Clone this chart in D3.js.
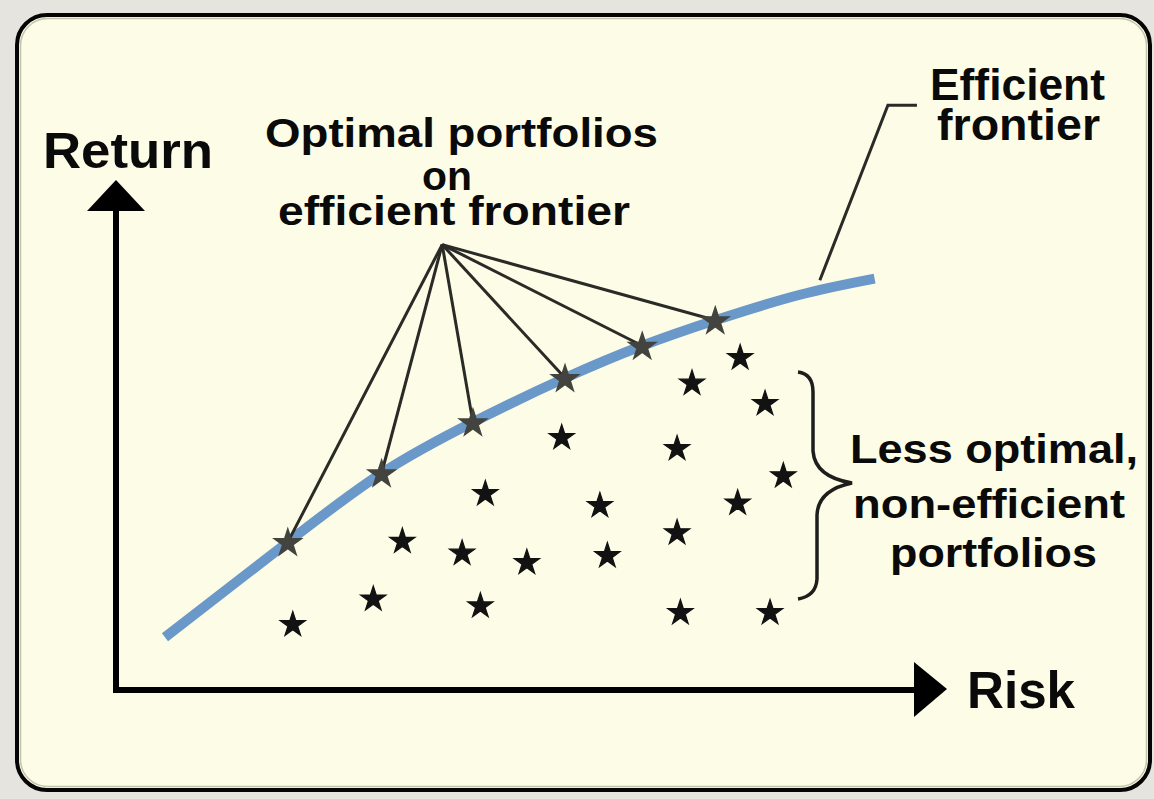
<!DOCTYPE html>
<html>
<head>
<meta charset="utf-8">
<script src="https://cdn.jsdelivr.net/npm/d3@7"></script>
<style>
  html, body { margin: 0; padding: 0; background: #e6e4df; }
  svg { display: block; }
  text { font-family: "Liberation Sans", Arial, Helvetica, sans-serif; font-weight: bold; fill: #0a0a0a; }
</style>
</head>
<body>
<div id="canvas"></div>
<script>
"use strict"

let svgWidth = 1154;
let svgHeight = 799;

// efficient frontier curve (risk, return)
let frontierRisk = [0.59, 2.07, 3.20, 4.30, 5.41, 6.34, 7.22, 8.24, 9.14];
let frontierReturn = [0.62, 1.74, 2.55, 3.15, 3.67, 4.05, 4.35, 4.65, 4.84];

// optimal portfolios sitting on the frontier
let optimalRisk = [2.07, 3.20, 4.30, 5.41, 6.34, 7.22];
let optimalReturn = [1.74, 2.55, 3.15, 3.67, 4.05, 4.35];

// less optimal, non-efficient portfolios
let otherRisk = [7.52, 6.94, 7.82, 5.37, 6.76, 8.04, 4.45, 5.83, 7.49, 6.76,
                 3.45, 4.17, 4.95, 5.92, 3.10, 4.39, 6.80, 7.88, 2.13];
let otherReturn = [3.92, 3.62, 3.38, 2.98, 2.85, 2.53, 2.32, 2.18, 2.21, 1.86,
                   1.76, 1.62, 1.51, 1.59, 1.08, 1.00, 0.92, 0.92, 0.78];

// point the callout lines fan out from
let focusRisk = 3.93;
let focusReturn = 5.24;

// labels
let axisLabels = ["Return", "Risk"];
let optimalLabel = ["Optimal portfolios", "on", "efficient frontier"];
let frontierLabel = ["Efficient", "frontier"];
let otherLabel = ["Less optimal,", "non-efficient", "portfolios"];

/* drawing canvas */
let svg = d3.select("#canvas")
    .append("svg")
    .attr("width", svgWidth)
    .attr("height", svgHeight);

/* panel */
svg.append("rect")
    .attr("x", 17).attr("y", 15)
    .attr("width", 1133).attr("height", 775)
    .attr("rx", 30).attr("ry", 30)
    .attr("fill", "#fdfde7")
    .attr("stroke", "#050505")
    .attr("stroke-width", 4);

svg.append("rect")
    .attr("x", 20.5).attr("y", 18.5)
    .attr("width", 1126).attr("height", 768)
    .attr("rx", 27).attr("ry", 27)
    .attr("fill", "none")
    .attr("stroke", "#c4c4ac")
    .attr("stroke-width", 1.5);

/* scales */
let xScale = d3.scaleLinear()
    .domain([0, 10])
    .range([116, 946]);

let yScale = d3.scaleLinear()
    .domain([0, 6])
    .range([690, 180]); // flipped for SVG

/* axes with arrow heads */
let x0 = xScale(0), y0 = yScale(0);
let xEnd = xScale(10), yEnd = yScale(6);

svg.append("path")
    .attr("d", "M" + x0 + "," + (yEnd + 30) + "V" + y0 + "H" + (xEnd - 31))
    .attr("fill", "none")
    .attr("stroke", "#000")
    .attr("stroke-width", 6)
    .attr("stroke-linejoin", "miter");

svg.append("path")
    .attr("d", "M" + x0 + "," + yEnd + "L" + (x0 + 29) + "," + (yEnd + 31) +
               "L" + (x0 - 29) + "," + (yEnd + 31) + "Z")
    .attr("fill", "#000");

svg.append("path")
    .attr("d", "M" + (xEnd + 1) + "," + (y0 - 1) + "L" + (xEnd - 32) + "," + (y0 - 28) +
               "L" + (xEnd - 32) + "," + (y0 + 27) + "Z")
    .attr("fill", "#000");

svg.append("text")
    .attr("x", 43).attr("y", 168)
    .attr("font-size", 50)
    .attr("textLength", 170)
    .attr("lengthAdjust", "spacingAndGlyphs")
    .text(axisLabels[0]);

svg.append("text")
    .attr("x", 967).attr("y", 708)
    .attr("font-size", 52)
    .attr("textLength", 108)
    .attr("lengthAdjust", "spacingAndGlyphs")
    .text(axisLabels[1]);

/* efficient frontier */
let frontier = d3.range(frontierRisk.length).map(function (i) {
    return [frontierRisk[i], frontierReturn[i]];
});

let line = d3.line()
    .x(function (d) { return xScale(d[0]); })
    .y(function (d) { return yScale(d[1]); })
    .curve(d3.curveNatural);

svg.append("path")
    .datum(frontier)
    .attr("d", line)
    .attr("fill", "none")
    .attr("stroke", "#6a98c9")
    .attr("stroke-width", 10);

/* callout lines from the label to the optimal portfolios */
svg.selectAll("line.callout")
    .data(optimalRisk)
    .join("line")
    .attr("class", "callout")
    .attr("x1", xScale(focusRisk))
    .attr("y1", yScale(focusReturn))
    .attr("x2", function (d) { return xScale(d); })
    .attr("y2", function (d, i) { return yScale(optimalReturn[i]); })
    .attr("stroke", "#2a2a27")
    .attr("stroke-width", 3);

/* stars */
let star = d3.symbol().type(d3.symbolStar).size(200);

svg.selectAll("path.other")
    .data(otherRisk)
    .join("path")
    .attr("class", "other")
    .attr("d", star)
    .attr("transform", function (d, i) {
        return "translate(" + xScale(d) + "," + (yScale(otherReturn[i]) + 1) + ")";
    })
    .attr("fill", "#121212")
    .attr("stroke", "#121212")
    .attr("stroke-width", 1.2);

svg.selectAll("path.optimal")
    .data(optimalRisk)
    .join("path")
    .attr("class", "optimal")
    .attr("d", star)
    .attr("transform", function (d, i) {
        return "translate(" + xScale(d) + "," + (yScale(optimalReturn[i]) + 1) + ")";
    })
    .attr("fill", "#43433f")
    .attr("stroke", "#43433f")
    .attr("stroke-width", 2);

/* multi-line label helper: one text element, one tspan per line */
function block(lines, pos, fontSize) {
    let t = svg.append("text").attr("font-size", fontSize);
    t.selectAll("tspan")
        .data(lines)
        .join("tspan")
        .attr("x", function (d, i) { return pos[i][0]; })
        .attr("y", function (d, i) { return pos[i][1]; })
        .attr("textLength", function (d, i) { return pos[i][2]; })
        .attr("lengthAdjust", "spacingAndGlyphs")
        .text(function (d) { return d; });
}

/* "Optimal portfolios on efficient frontier" */
block(optimalLabel, [[265, 147, 393], [422, 190, 50], [278, 225, 352]], 41);

/* "Efficient frontier" with leader line */
let leader = [[8.48, 4.82], [9.30, 6.88], [9.65, 6.88]];
svg.append("path")
    .datum(leader)
    .attr("d", d3.line()
        .x(function (d) { return xScale(d[0]); })
        .y(function (d) { return yScale(d[1]); }))
    .attr("fill", "none")
    .attr("stroke", "#2a2a27")
    .attr("stroke-width", 3);

block(frontierLabel, [[930, 100, 175], [937, 140, 163]], 44);

/* brace around the non-efficient portfolios */
let bx = 813, bTop = 372, bBot = 599, bTip = 852, bMid = 483;
svg.append("path")
    .attr("d",
        "M" + (bx - 15) + "," + bTop +
        "Q" + bx + "," + (bTop + 2) + " " + bx + "," + (bTop + 20) +
        "L" + bx + "," + (bMid - 32) +
        "Q" + (bx + 2) + "," + (bMid - 6) + " " + bTip + "," + bMid +
        "Q" + (bx + 5) + "," + (bMid + 7) + " " + (bx + 4) + "," + (bMid + 32) +
        "L" + (bx + 4) + "," + (bBot - 20) +
        "Q" + (bx + 3) + "," + (bBot - 3) + " " + (bx - 15) + "," + bBot)
    .attr("fill", "none")
    .attr("stroke", "#1e1e1c")
    .attr("stroke-width", 3.5);

block(otherLabel, [[850, 463, 288], [853, 518, 272], [890, 567, 207]], 41);
</script>
</body>
</html>
